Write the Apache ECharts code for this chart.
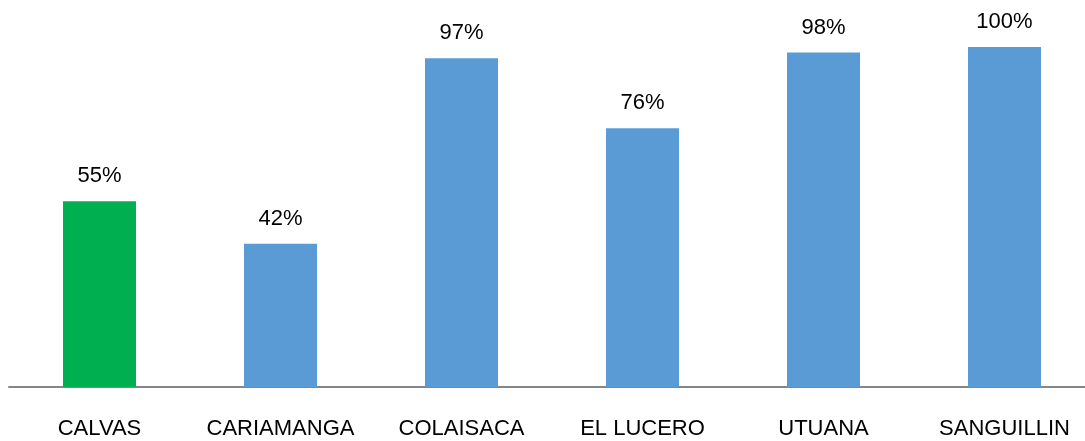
<!DOCTYPE html>
<html>
<head>
<meta charset="utf-8">
<script src="https://cdn.jsdelivr.net/npm/echarts@6/dist/echarts.min.js"></script>
<style>
  html, body { margin: 0; padding: 0; background: #fff; overflow: hidden; }
  #chart { width: 1095px; height: 441px; }
</style>
</head>
<body>
<div id="chart"></div>
<script>
const categories = ['CALVAS', 'CARIAMANGA', 'COLAISACA', 'EL LUCERO', 'UTUANA', 'SANGUILLIN'];
const values = [54.6, 42.1, 96.7, 76.1, 98.4, 100];
const barColors = ['#00B050', '#5B9BD5', '#5B9BD5', '#5B9BD5', '#5B9BD5', '#5B9BD5'];

const chart = echarts.init(document.getElementById('chart'), null, { renderer: 'canvas' });
chart.setOption({
  animation: false,
  backgroundColor: '#ffffff',
  grid: { left: 9, right: 0, top: 47, bottom: 54, containLabel: false },
  xAxis: {
    type: 'category',
    data: categories,
    axisLine: { show: true, lineStyle: { color: '#868686', width: 2 } },
    axisTick: { show: false },
    axisLabel: {
      color: '#000000',
      fontFamily: 'Liberation Sans',
      fontSize: 22,
      margin: 31,
      interval: 0
    }
  },
  yAxis: {
    type: 'value',
    min: 0,
    max: 100,
    show: false,
    splitLine: { show: false }
  },
  series: [{
    type: 'bar',
    data: values.map((v, i) => ({ value: v, itemStyle: { color: barColors[i] } })),
    barWidth: 73,
    label: {
      show: true,
      position: 'top',
      distance: 14,
      color: '#000000',
      fontFamily: 'Liberation Sans',
      fontSize: 22,
      formatter: p => Math.round(p.value) + '%'
    }
  }]
});
</script>
</body>
</html>
